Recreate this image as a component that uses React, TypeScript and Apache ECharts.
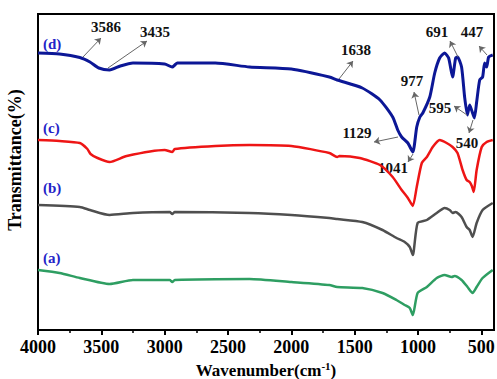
import React, { useEffect, useRef } from "react";
import * as echarts from "echarts";

// Wavenumber (cm-1) vs offset transmittance (arbitrary units)
const seriesD: [number, number][] = [
  [4000, 277], [3830, 276], [3670, 272.5], [3590, 268], [3520, 262], [3435, 260], [3350, 264],
  [3250, 267], [3000, 266], [2940, 263], [2920, 265], [2900, 267], [2600, 267], [2330, 263],
  [2000, 261], [1700, 253], [1638, 250], [1440, 242], [1300, 230], [1200, 213], [1160, 200],
  [1129, 193], [1080, 187], [1041, 178], [1010, 203], [985, 213], [962, 217], [907, 233],
  [868, 257], [829, 272], [790, 277], [758, 272], [727, 253], [703, 272], [688, 273],
  [656, 263], [632, 233], [610, 215], [592, 225], [577, 220], [555, 212], [537, 228],
  [513, 250], [490, 253], [474, 267], [458, 263], [442, 273], [410, 275],
];
const seriesC: [number, number][] = [
  [4000, 190], [3830, 189], [3670, 187], [3610, 181], [3585, 176], [3530, 172], [3435, 168],
  [3300, 174], [3000, 180], [2940, 178], [2920, 181], [2600, 184], [2330, 185], [2000, 184],
  [1700, 177], [1638, 173], [1620, 174], [1460, 172], [1300, 165], [1200, 153], [1129, 140],
  [1080, 132], [1041, 124], [1010, 143], [970, 167], [930, 173], [884, 183], [829, 190],
  [774, 187], [727, 183], [688, 177], [648, 160], [616, 150], [592, 148], [575, 144],
  [560, 138], [537, 160], [497, 183], [458, 188], [410, 190],
];
const seriesB: [number, number][] = [
  [4000, 125], [3670, 123], [3590, 120], [3435, 115], [3250, 117], [2960, 118], [2940, 116],
  [2920, 118], [2330, 117], [2000, 115], [1700, 112], [1638, 111], [1440, 108], [1280, 100],
  [1170, 92], [1105, 88], [1065, 83], [1041, 75], [1003, 107], [930, 110], [852, 117],
  [790, 122], [750, 120], [727, 117], [703, 118], [656, 113], [616, 103], [592, 100],
  [569, 93], [537, 107], [490, 120], [410, 127],
];
const seriesA: [number, number][] = [
  [4000, 60], [3830, 57], [3670, 52], [3435, 46], [3250, 50], [2960, 50], [2940, 48],
  [2920, 50], [2330, 51], [2000, 48], [1700, 45], [1638, 43], [1440, 42], [1280, 37],
  [1170, 30], [1105, 25], [1065, 22], [1041, 15], [1003, 37], [930, 43], [852, 52],
  [790, 55], [734, 53], [711, 54], [656, 50], [609, 43], [569, 37], [537, 43], [490, 52],
  [410, 60],
];
const majorTicks = [500, 1000, 1500, 2000, 2500, 3000, 3500, 4000];
const minorTicks = [750, 1250, 1750, 2250, 2750, 3250, 3750];
const curveLabels = ["(d)", "(c)", "(b)", "(a)"];
const peakLabels = ["3586", "3435", "1638", "977", "691", "447", "595", "540", "1129", "1041"];

const FONT = "Liberation Serif";

export default function App() {
  const ref = useRef<HTMLDivElement>(null);
  useEffect(() => {
    if (!ref.current) return;
    const chart = echarts.init(ref.current, undefined, { renderer: "svg" });

    const labelPos: [number, number][] = [[43, 44], [43, 128], [43, 188], [43, 258]];
    const peakPos: [number, number][] = [
      [106, 27], [155, 32], [356, 50], [412, 81], [437, 32], [472, 32],
      [440, 108], [467, 143], [357, 133], [393, 168],
    ];
    const arrows: [number, number, number, number][] = [
      [83, 57, 101, 38], [108, 68, 147, 41], [339, 79, 353, 61], [419, 115, 414, 92],
      [458, 57, 450, 41], [487, 55, 479, 46], [467, 115, 454, 106], [473, 120, 469, 133],
      [398, 137, 374, 142], [413, 154, 408, 162],
    ];

    const mk = (name: string, data: [number, number][], color: string, width: number, extra: any = {}) => ({
      name,
      type: "line",
      data,
      showSymbol: false,
      symbol: "none",
      smooth: 0.2,
      lineStyle: { color, width },
      ...extra,
    });

    chart.setOption({
      animation: false,
      grid: {
        left: 38, right: 3, top: 14, bottom: 49,
        outerBoundsMode: "none",
        containLabel: false,
        show: true, borderColor: "#000", borderWidth: 2,
      },
      xAxis: [
        {
          type: "value", min: 400, max: 4000, inverse: true,
          axisLine: { show: true, lineStyle: { color: "#000", width: 2 } },
          axisTick: { show: true, customValues: majorTicks, length: 5, lineStyle: { color: "#000", width: 2 } },
          axisLabel: {
            customValues: majorTicks, color: "#000", fontFamily: FONT, fontWeight: "bold",
            fontSize: 18, margin: 8, formatter: (v: number) => String(v),
          },
          splitLine: { show: false },
          name: "{a|Wavenumber(cm}{s|-1}{a|)}",
          nameLocation: "middle",
          nameGap: 30,
          nameTextStyle: {
            rich: {
              a: { fontFamily: FONT, fontWeight: "bold", fontSize: 17, color: "#000" },
              s: { fontFamily: FONT, fontWeight: "bold", fontSize: 11, color: "#000", verticalAlign: "top", padding: [0, 0, 8, 0] },
            },
          },
        },
        {
          type: "value", min: 400, max: 4000, inverse: true, position: "bottom",
          axisLine: { show: false },
          axisTick: { show: true, customValues: minorTicks, length: 3, lineStyle: { color: "#000", width: 1.5 } },
          axisLabel: { show: false },
          splitLine: { show: false },
        },
      ],
      yAxis: {
        type: "value", min: 0, max: 316,
        axisLine: { show: true, lineStyle: { color: "#000", width: 2 } },
        axisTick: { show: false },
        axisLabel: { show: false },
        splitLine: { show: false },
        name: "Transmittance(%)",
        nameLocation: "middle",
        nameRotate: 90,
        nameGap: 14,
        nameTextStyle: { fontFamily: FONT, fontWeight: "bold", fontSize: 18, color: "#000", padding: [0, 0, 0, 24] },
      },
      series: [
        mk("a", seriesA, "#2e9e62", 2.5),
        mk("b", seriesB, "#4f4f4f", 2.5),
        mk("c", seriesC, "#ee1515", 2.5),
        mk("d", seriesD, "#0c1796", 3, {
          markLine: {
            silent: true,
            symbol: ["none", "arrow"],
            symbolSize: 6,
            label: { show: false },
            lineStyle: { color: "#666", width: 1, type: "solid" },
            data: arrows.map(([x1, y1, x2, y2]) => [{ x: x1, y: y1 }, { x: x2, y: y2 }]),
          },
        }),
      ],
      graphic: [
        ...curveLabels.map((t, i) => ({
          type: "text", x: labelPos[i][0], y: labelPos[i][1],
          style: { text: t, fill: "#2424c8", font: `bold 15px '${FONT}'`, textVerticalAlign: "middle" },
        })),
        ...peakLabels.map((t, i) => ({
          type: "text", x: peakPos[i][0], y: peakPos[i][1],
          style: { text: t, fill: "#111", font: `bold 15px '${FONT}'`, textAlign: "center", textVerticalAlign: "middle" },
        })),
      ],
    });
    return () => chart.dispose();
  }, []);
  return <div ref={ref} style={{ width: 497, height: 379, position: "absolute", left: 0, top: 0 }} />;
}
